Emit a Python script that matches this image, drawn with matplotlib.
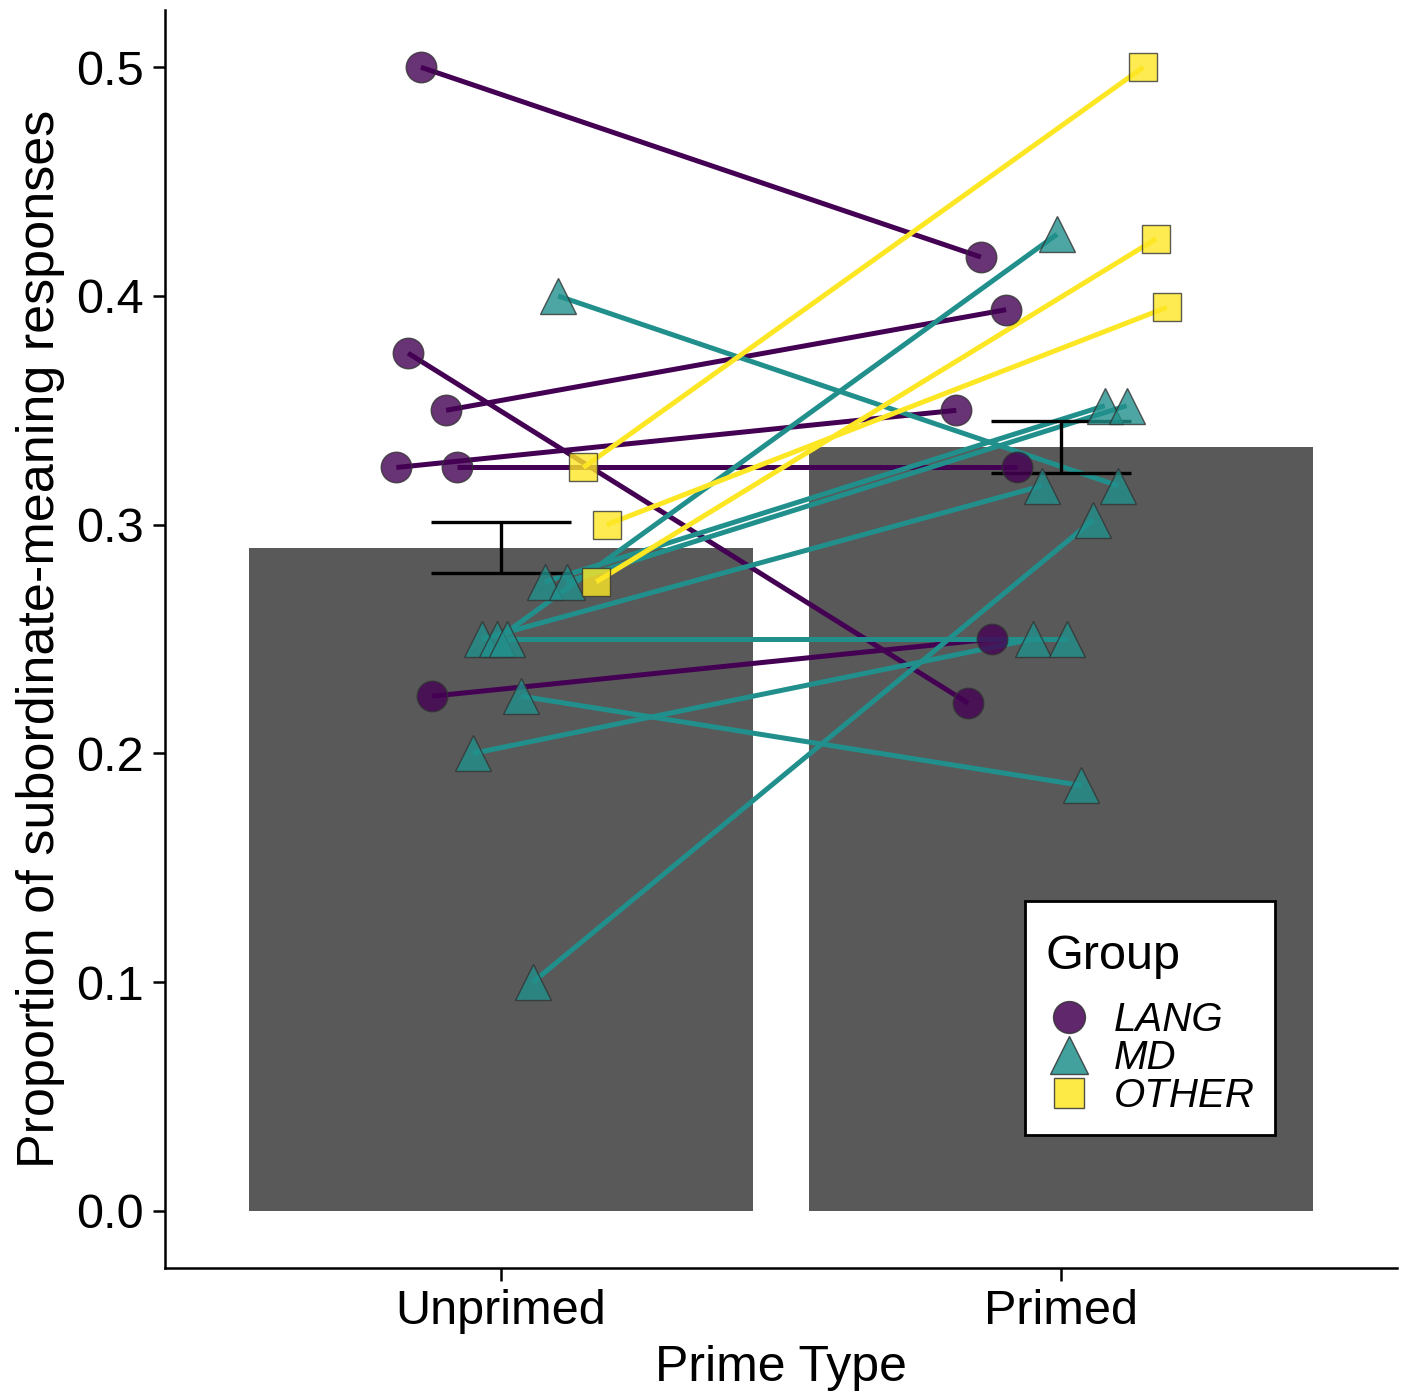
import numpy as np
import matplotlib
matplotlib.use("Agg")
import matplotlib.pyplot as plt
from matplotlib.lines import Line2D
from matplotlib.offsetbox import DrawingArea

plt.rcParams['font.family'] = ['Liberation Sans', 'DejaVu Sans']

# condition summary
conditions = ["Unprimed", "Primed"]
bar_means = [0.290, 0.334]
err_half = [0.0112, 0.0112]

# per-subject values (unprimed, primed) and horizontal jitter
lang_unprimed = [0.500, 0.375, 0.350, 0.325, 0.325, 0.225]
lang_primed = [0.417, 0.222, 0.394, 0.350, 0.325, 0.250]
lang_jitter = [-0.143, -0.166, -0.098, -0.187, -0.078, -0.123]

md_unprimed = [0.400, 0.100, 0.200, 0.225, 0.250, 0.250, 0.250, 0.275, 0.275]
md_primed = [0.317, 0.302, 0.250, 0.186, 0.317, 0.427, 0.250, 0.352, 0.352]
md_jitter = [0.102, 0.057, -0.050, 0.036, -0.034, -0.007, 0.011, 0.078, 0.117]

other_unprimed = [0.325, 0.275, 0.300]
other_primed = [0.500, 0.425, 0.395]
other_jitter = [0.147, 0.170, 0.189]

groups = ["LANG", "MD", "OTHER"]
line_colors = {"LANG": "#440154", "MD": "#21908C", "OTHER": "#FDE725"}
markers = {"LANG": "o", "MD": "^", "OTHER": "s"}
msizes = {"LANG": 22, "MD": 26, "OTHER": 20}

data = {
    "LANG": (lang_unprimed, lang_primed, lang_jitter),
    "MD": (md_unprimed, md_primed, md_jitter),
    "OTHER": (other_unprimed, other_primed, other_jitter),
}

fig = plt.figure(figsize=(14.08, 13.98), dpi=100)
ax = fig.add_axes([0.1172, 0.093, 0.8750, 0.8998])

xpos = np.arange(1, len(conditions) + 1)
ax.bar(xpos, bar_means, width=0.9, color="#595959", zorder=1)

# subject lines
for g in groups:
    un, pr, jit = data[g]
    for u, p, j in zip(un, pr, jit):
        ax.plot([1 + j, 2 + j], [u, p], color=line_colors[g], lw=3.6,
                solid_capstyle="butt", zorder=2)

# error bars
for x, m, e in zip(xpos, bar_means, err_half):
    ax.vlines(x, m - e, m + e, color="black", lw=2.4, zorder=3)
    ax.hlines([m - e, m + e], x - 0.125, x + 0.125, color="black", lw=2.4, zorder=3)

# points
for g in groups:
    un, pr, jit = data[g]
    xs = [1 + j for j in jit] + [2 + j for j in jit]
    ys = list(un) + list(pr)
    ax.plot(xs, ys, linestyle="none", marker=markers[g], ms=msizes[g],
            mfc=line_colors[g], mec="#333333", mew=1.0, alpha=0.8, zorder=4)

ax.set_xlim(0.4, 2.6)
ax.set_ylim(-0.025, 0.525)
ax.set_xticks(xpos)
ax.set_xticklabels(conditions)
ax.set_yticks([0.0, 0.1, 0.2, 0.3, 0.4, 0.5])
ax.set_yticklabels(["0.0", "0.1", "0.2", "0.3", "0.4", "0.5"])
ax.tick_params(labelsize=35, length=9, width=1.8, colors="black", pad=6)
for s in ["top", "right"]:
    ax.spines[s].set_visible(False)
for s in ["left", "bottom"]:
    ax.spines[s].set_linewidth(1.8)

ax.set_xlabel("Prime Type", fontsize=36, labelpad=8)
ax.set_ylabel("Proportion of subordinate-meaning responses", fontsize=37.5, labelpad=8)

handles = [Line2D([], [], linestyle="none", marker=markers[g], ms=msizes[g] + 1,
                  mfc=line_colors[g], mec="#333333", mew=1.0, alpha=0.85)
           for g in groups]
leg = ax.legend(handles, groups, title="Group", loc="lower left",
                bbox_to_anchor=(0.698, 0.1057), borderaxespad=0,
                fontsize=29, title_fontsize=35, frameon=True, fancybox=False,
                labelspacing=0.0, handletextpad=0.5, handlelength=1.2,
                borderpad=0.5, alignment="left", framealpha=1.0,
                facecolor="white")
leg.get_frame().set_edgecolor("black")
leg.get_frame().set_linewidth(2.0)
for t in leg.get_texts():
    t.set_fontstyle("italic")

# extra room above and below the legend title
box = leg._legend_box
title_box, entries_box = box._children
box._children = [DrawingArea(0, 9), title_box, DrawingArea(0, 16), entries_box]
box.sep = 0

fig.savefig("out.png", dpi=100)
